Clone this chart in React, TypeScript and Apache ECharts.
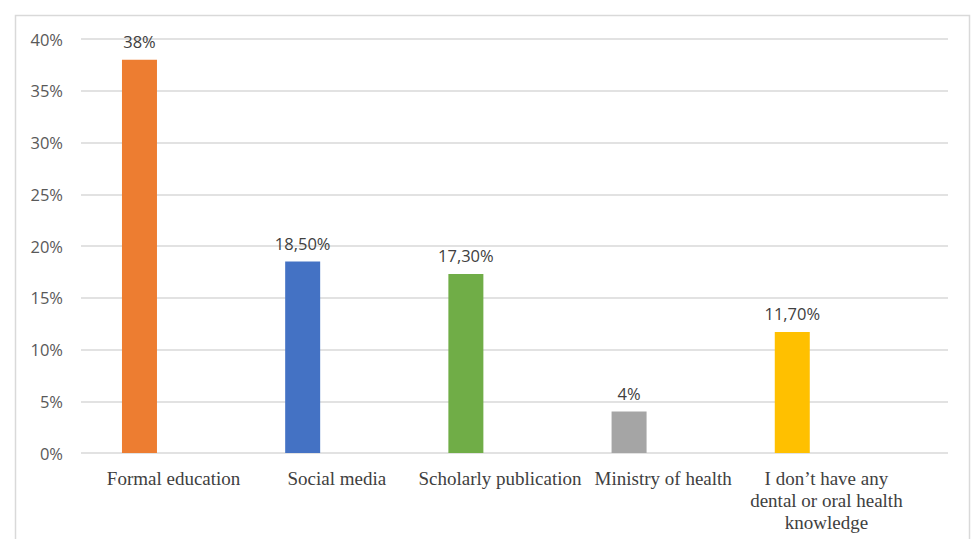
import React, { useEffect, useRef } from "react";
import * as echarts from "echarts";

const categories = [
  "Formal education",
  "Social media",
  "Scholarly publication",
  "Ministry of health",
  "I don\u2019t have any\ndental or oral health\nknowledge",
];
const values = [38, 18.5, 17.3, 4, 11.7];
const valueLabels = ["38%", "18,50%", "17,30%", "4%", "11,70%"];
const barColors = ["#ED7D31", "#4472C4", "#70AD47", "#A5A5A5", "#FFC000"];
const yTicks = [0, 5, 10, 15, 20, 25, 30, 35, 40];

export default function App() {
  const ref = useRef<HTMLDivElement>(null);
  useEffect(() => {
    document.body.style.margin = "0";
    const chart = echarts.init(ref.current!, null, { renderer: "svg" });
    const yMin = yTicks[0];
    const yMax = yTicks[yTicks.length - 1];
    chart.setOption({
      animation: false,
      backgroundColor: "#ffffff",
      graphic: [
        {
          type: "rect",
          shape: { x: 15.5, y: 15.5, width: 954, height: 540 },
          style: { fill: "none", stroke: "#d9d9d9", lineWidth: 1.5 },
          silent: true,
        },
      ],
      grid: [
        { left: 81, right: 23, top: 39, bottom: 86 },
        { left: 92, right: 63, top: 39, bottom: 86 },
      ],
      xAxis: [
        { type: "category", gridIndex: 0, data: categories, show: false },
        {
          type: "category",
          gridIndex: 1,
          data: categories,
          axisLine: { show: false },
          axisTick: { show: false },
          axisLabel: {
            interval: 0,
            margin: 14,
            color: "#404040",
            fontFamily: "Liberation Serif",
            fontSize: 19,
            lineHeight: 22,
          },
        },
      ],
      yAxis: [
        {
          type: "value",
          gridIndex: 0,
          min: yMin,
          max: yMax,
          interval: 5,
          axisLine: { show: false },
          axisTick: { show: false },
          splitLine: { lineStyle: { color: "#d9d9d9", width: 1.5 } },
          axisLabel: {
            margin: 18,
            color: "#595959",
            fontFamily: "Open Sans",
            fontSize: 16.5,
            formatter: (v: number) => v + "%",
          },
        },
        {
          type: "value",
          gridIndex: 1,
          min: yMin,
          max: yMax,
          interval: 5,
          show: false,
        },
      ],
      series: [
        {
          type: "bar",
          xAxisIndex: 1,
          yAxisIndex: 1,
          barWidth: 35,
          barGap: "95%",
          data: values.map((v, i) => ({
            value: v,
            itemStyle: { color: barColors[i] },
          })),
          label: {
            show: true,
            position: "top",
            distance: 10,
            color: "#404040",
            fontFamily: "Open Sans",
            fontSize: 16.5,
            formatter: (p: any) => valueLabels[p.dataIndex],
          },
        },
        {
          type: "bar",
          xAxisIndex: 1,
          yAxisIndex: 1,
          barWidth: 35,
          data: values.map(() => null),
        },
      ],
    });
    return () => chart.dispose();
  }, []);
  return <div ref={ref} style={{ width: 971, height: 539 }} />;
}
